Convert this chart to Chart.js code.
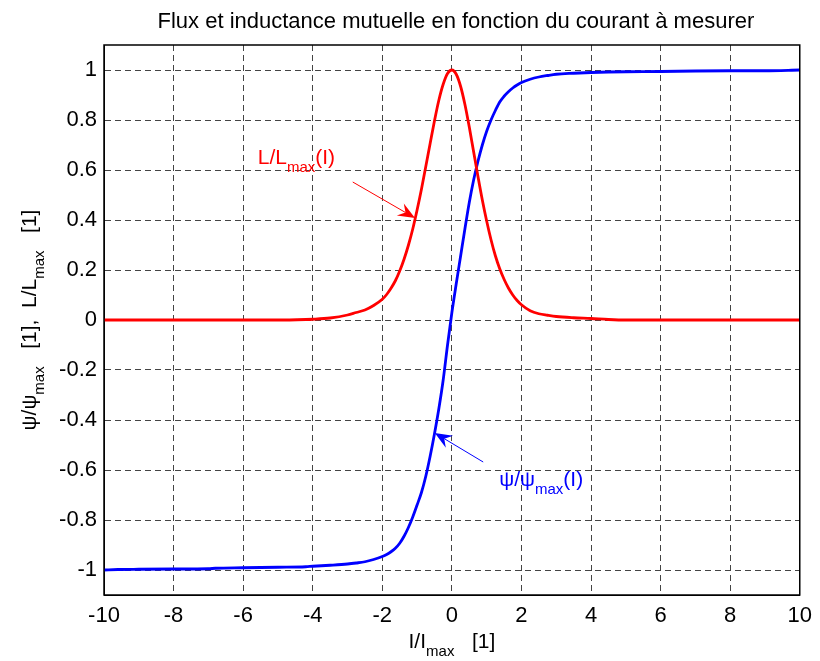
<!DOCTYPE html>
<html lang="fr">
<head>
<meta charset="UTF-8">
<title>Flux et inductance mutuelle</title>
<script src="https://cdn.jsdelivr.net/npm/chart.js"></script>
<style>
  body { margin: 0; background: #fff; }
</style>
</head>
<body>
<canvas id="fluxChart" width="820" height="661"></canvas>
<script>
const current = [-10, -9.6, -9, -8, -7, -6.8, -6, -5, -4.2, -4, -3.5, -3, -2.75, -2.5, -2.25, -2,
                 -1.875, -1.75, -1.625, -1.5, -1.375, -1.25, -1.125, -1, -0.875, -0.75, -0.625, -0.5, -0.375, -0.25, -0.125,
                 0, 0.125, 0.25, 0.375, 0.5, 0.625, 0.75, 0.875, 1, 1.125, 1.25, 1.375, 1.5, 1.625, 1.75, 1.875,
                 2, 2.25, 2.5, 2.75, 3, 3.5, 4, 4.5, 5, 6, 7, 8, 9, 10];

// L/Lmax(I)
const inductance = [0, 0, 0, 0, 0, 0, 0, 0, 0.002, 0.003, 0.008, 0.02, 0.03, 0.04, 0.058, 0.083,
                    0.102, 0.127, 0.157, 0.196, 0.243, 0.299, 0.364, 0.44, 0.523, 0.614, 0.706, 0.797, 0.879, 0.943, 0.986,
                    1, 0.983, 0.935, 0.862, 0.772, 0.673, 0.574, 0.48, 0.396, 0.321, 0.257, 0.205, 0.163, 0.128, 0.1, 0.078,
                    0.061, 0.037, 0.025, 0.019, 0.014, 0.009, 0.006, 0.002, 0, 0, 0, 0, 0, 0];

// psi/psimax(I)
const flux = [-1, -0.998, -0.997, -0.996, -0.995, -0.993, -0.991, -0.989, -0.987, -0.985, -0.981, -0.976, -0.972, -0.967, -0.958, -0.946,
              -0.938, -0.927, -0.913, -0.893, -0.865, -0.83, -0.788, -0.74, -0.69, -0.625, -0.545, -0.455, -0.355, -0.24, -0.1,
              0.03, 0.145, 0.255, 0.365, 0.47, 0.56, 0.635, 0.7, 0.755, 0.8, 0.838, 0.872, 0.895, 0.913, 0.928, 0.94,
              0.95, 0.963, 0.972, 0.978, 0.983, 0.987, 0.99, 0.992, 0.993, 0.994, 0.996, 0.997, 0.997, 1];

const xTicks = [-10, -8, -6, -4, -2, 0, 2, 4, 6, 8, 10];
const yTicks = [-1, -0.8, -0.6, -0.4, -0.2, 0, 0.2, 0.4, 0.6, 0.8, 1];

const FONT = '"Liberation Sans", Arial, Helvetica, sans-serif';

// draw text with subscript parts: parts = [[text, isSub], ...]
function richWidth(ctx, parts) {
    let w = 0;
    parts.forEach(p => {
        ctx.font = (p[1] ? 15 : 21) + 'px ' + FONT;
        w += ctx.measureText(p[0]).width;
    });
    return w;
}
function drawRich(ctx, parts, x, y) {
    let cx = x;
    parts.forEach(p => {
        ctx.font = (p[1] ? 15 : 21) + 'px ' + FONT;
        ctx.fillText(p[0], cx, p[1] ? y + 8 : y);
        cx += ctx.measureText(p[0]).width;
    });
}
function drawArrow(ctx, x0, y0, x1, y1, color) {
    const ang = Math.atan2(y1 - y0, x1 - x0);
    const len = 17, half = 7, notch = 11;
    ctx.strokeStyle = color;
    ctx.fillStyle = color;
    ctx.lineWidth = 1;
    ctx.beginPath();
    ctx.moveTo(x0, y0);
    ctx.lineTo(x1 - Math.cos(ang) * notch, y1 - Math.sin(ang) * notch);
    ctx.stroke();
    ctx.save();
    ctx.translate(x1, y1);
    ctx.rotate(ang);
    ctx.beginPath();
    ctx.moveTo(0, 0);
    ctx.lineTo(-len, -half);
    ctx.lineTo(-notch, 0);
    ctx.lineTo(-len, half);
    ctx.closePath();
    ctx.fill();
    ctx.restore();
}

const decorPlugin = {
    id: 'decor',
    afterDraw(chart) {
        const ctx = chart.ctx;
        const a = chart.chartArea;
        const xs = chart.scales.x, ys = chart.scales.y;
        ctx.save();

        // frame
        ctx.strokeStyle = '#000';
        ctx.lineWidth = 1.5;
        ctx.strokeRect(a.left, a.top, a.right - a.left, a.bottom - a.top);

        // title
        ctx.fillStyle = '#000';
        ctx.font = '22px ' + FONT;
        ctx.textAlign = 'center';
        ctx.textBaseline = 'alphabetic';
        ctx.fillText('Flux et inductance mutuelle en fonction du courant à mesurer', (a.left + a.right) / 2 + 4, 28);
        ctx.textAlign = 'left';

        // x axis title
        const xParts = [['I/I', 0], ['max', 1], ['   [1]', 0]];
        drawRich(ctx, xParts, (a.left + a.right) / 2 - richWidth(ctx, xParts) / 2, 648);

        // y axis title
        const yParts = [['ψ/ψ', 0], ['max', 1], ['   [1],  L/L', 0], ['max', 1], ['   [1]', 0]];
        ctx.save();
        ctx.translate(36, (a.top + a.bottom) / 2);
        ctx.rotate(-Math.PI / 2);
        drawRich(ctx, yParts, -richWidth(ctx, yParts) / 2, 0);
        ctx.restore();

        // annotations
        ctx.fillStyle = '#ff0000';
        drawRich(ctx, [['L/L', 0], ['max', 1], ['(I)', 0]], xs.getPixelForValue(-5.58), ys.getPixelForValue(0.624));
        drawArrow(ctx, xs.getPixelForValue(-2.85), ys.getPixelForValue(0.552),
                  xs.getPixelForValue(-1.06), ys.getPixelForValue(0.408), '#ff0000');

        ctx.fillStyle = '#0000ff';
        drawRich(ctx, [['ψ/ψ', 0], ['max', 1], ['(I)', 0]], xs.getPixelForValue(1.36), ys.getPixelForValue(-0.664));
        drawArrow(ctx, xs.getPixelForValue(0.9), ys.getPixelForValue(-0.568),
                  xs.getPixelForValue(-0.49), ys.getPixelForValue(-0.452), '#0000ff');

        ctx.restore();
    }
};

const tickFont = { family: FONT, size: 22 };

new Chart(document.getElementById('fluxChart'), {
    type: 'line',
    data: {
        datasets: [
            {
                label: 'L/Lmax(I)',
                data: current.map((x, i) => ({ x: x, y: inductance[i] })),
                borderColor: '#ff0000',
                borderWidth: 2.8,
                pointRadius: 0,
                cubicInterpolationMode: 'monotone',
                fill: false
            },
            {
                label: 'psi/psimax(I)',
                data: current.map((x, i) => ({ x: x, y: flux[i] })),
                borderColor: '#0000ff',
                borderWidth: 2.8,
                pointRadius: 0,
                cubicInterpolationMode: 'monotone',
                fill: false
            }
        ]
    },
    options: {
        responsive: false,
        animation: false,
        layout: { padding: { top: 45, right: 14, left: 0, bottom: 0 } },
        plugins: {
            legend: { display: false },
            tooltip: { enabled: false },
            title: { display: false }
        },
        scales: {
            x: {
                type: 'linear',
                min: -10,
                max: 10,
                afterBuildTicks: s => { s.ticks = xTicks.map(v => ({ value: v })); },
                afterFit: s => { s.height = 66; },
                grid: { color: '#444', lineWidth: 1, drawTicks: false },
                border: { display: true, color: '#000', dash: [6, 4] },
                ticks: { color: '#000', font: tickFont, padding: 8, maxRotation: 0, autoSkip: false,
                         callback: v => String(v) }
            },
            y: {
                type: 'linear',
                min: -1.1,
                max: 1.1,
                afterBuildTicks: s => { s.ticks = yTicks.map(v => ({ value: v })); },
                afterFit: s => { s.width = 104; },
                grid: { color: '#444', lineWidth: 1, drawTicks: false },
                border: { display: true, color: '#000', dash: [6, 4] },
                ticks: { color: '#000', font: tickFont, padding: 7, autoSkip: false,
                         callback: v => String(Math.round(v * 10) / 10) }
            }
        }
    },
    plugins: [decorPlugin]
});
</script>
</body>
</html>
